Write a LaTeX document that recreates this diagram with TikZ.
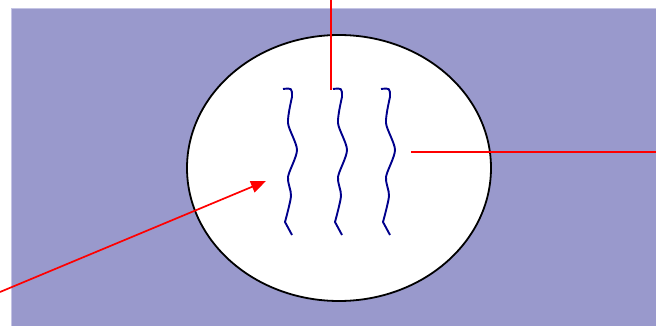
\documentclass[tikz,border=0pt]{standalone}
\usetikzlibrary{arrows.meta}
\definecolor{bgpurple}{RGB}{153,153,204}
\definecolor{bgedge}{RGB}{196,196,228}
\definecolor{fibre}{RGB}{0,0,140}
\tikzset{
  pointer/.style={red,line width=1.7pt},
  fibreline/.style={fibre,line width=1.9pt,line join=round}
}
\begin{document}
\begin{tikzpicture}[x=1pt,y=-1pt]
	\useasboundingbox (0,0) rectangle (656,326);
	% Background
	\fill[bgpurple] (11,8) rectangle (656,326);
	\draw[bgedge,line width=1.5pt] (11.5,326) -- (11.5,8.5) -- (656,8.5);
	% Cell
	\draw[fill=white,line width=1.8pt] (339,168) ellipse (152 and 133);
	% Fibres
	\foreach \dx in {0,50,98} {
		\draw[fibreline,xshift=\dx] (283,89) .. controls (292,88) .. (292,97)
			plot[smooth,tension=0.45] coordinates {(292,97) (288,123) (297,150) (288,177) (291,196) (285,222)}
			-- (292,235);
	}
	% Pointers
	\coordinate (topend) at (331,0);
	\coordinate (topfibre) at (331,90);
	\coordinate (rightend) at (656,152);
	\coordinate (rightfibre) at (411,152);
	\coordinate (leftend) at (0,292);
	\coordinate (lefttip) at (266,181);
	\draw[pointer] (topend) -- (topfibre);
	\draw[pointer] (rightend) -- (rightfibre);
	\draw[pointer,-{Triangle[length=15pt,width=12pt]}] (leftend) -- (lefttip);
\end{tikzpicture}
\end{document}
